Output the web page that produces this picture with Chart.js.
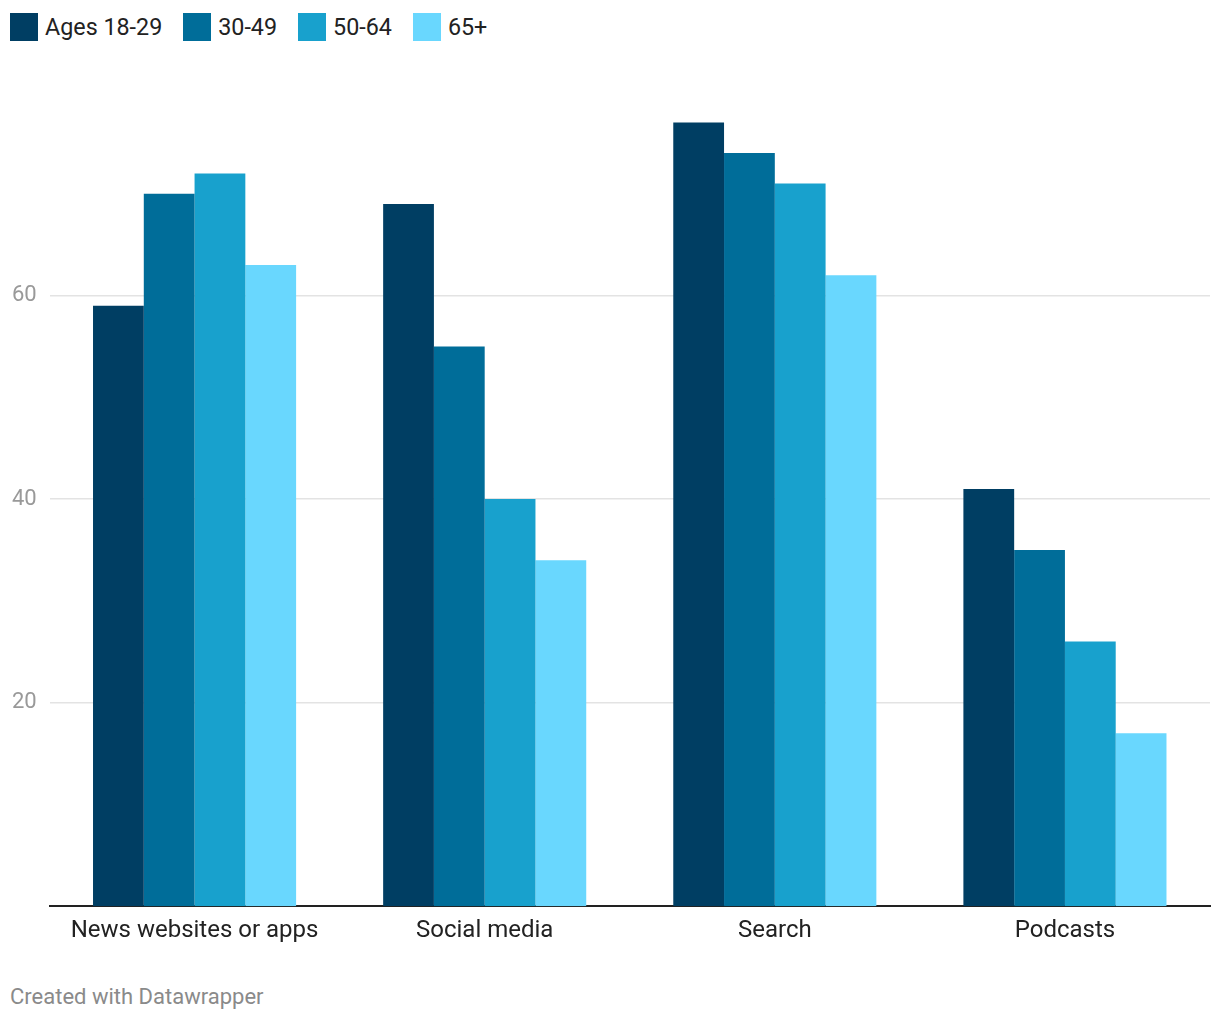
<!DOCTYPE html>
<html>
<head>
<meta charset="utf-8">
<script src="https://cdn.jsdelivr.net/npm/chart.js@4/dist/chart.umd.min.js"></script>
<style>
  body { margin: 0; background: #fff; font-family: Roboto, sans-serif; }
  #wrap { position: relative; width: 1220px; height: 1020px; }
  #legend { position: absolute; left: 10px; top: 13px; display: flex; align-items: center; }
  .item { display: flex; align-items: center; margin-right: 21px; font-size: 23.3px; color: #222; }
  .box { width: 28px; height: 28px; margin-right: 7px; }
  #box { position: absolute; left: 0; top: 0; width: 1220px; height: 960px; }
  #footer { position: absolute; left: 10px; top: 984px; font-size: 22px; color: #8a8a8a; }
</style>
</head>
<body>
<div id="wrap">
  <div id="legend"></div>
  <div id="box"><canvas id="myChart"></canvas></div>
  <div id="footer">Created with Datawrapper</div>
</div>
<script>
let categories = ['News websites or apps', 'Social media', 'Search', 'Podcasts'];
let seriesNames = ['Ages 18-29', '30-49', '50-64', '65+'];
let ages1829 = [59, 69, 77, 41];
let ages3049 = [70, 55, 74, 35];
let ages5064 = [72, 40, 71, 26];
let ages65 = [63, 34, 62, 17];
let yTicks = [20, 40, 60];
let colors = ['#003e63', '#006d99', '#18a1cd', '#69d7fe'];

let seriesValues = [ages1829, ages3049, ages5064, ages65];

// legend built as html
let legend = document.getElementById('legend');
for (let i = 0; i < seriesNames.length; i++) {
    let item = document.createElement('div');
    item.className = 'item';
    item.innerHTML = '<div class="box" style="background:' + colors[i] + '"></div>' + seriesNames[i];
    legend.appendChild(item);
}

let datasets = [];
for (let i = 0; i < seriesNames.length; i++) {
    datasets.push({
        label: seriesNames[i],
        data: seriesValues[i],
        backgroundColor: colors[i],
        borderWidth: 0,
        categoryPercentage: 0.7,
        barPercentage: 1.0
    });
}

let ctx = document.getElementById('myChart').getContext('2d');
let myChart = new Chart(ctx, {
    type: 'bar',
    data: {
        labels: categories,
        datasets: datasets
    },
    options: {
        responsive: true,
        maintainAspectRatio: false,
        animation: false,
        layout: { padding: { left: 12, right: 10, top: 92, bottom: 5 } },
        plugins: {
            legend: { display: false },
            tooltip: { enabled: false }
        },
        scales: {
            x: {
                grid: { display: false, drawTicks: false },
                border: { display: true, color: '#222', width: 2 },
                ticks: { color: '#222', font: { family: 'Roboto', size: 24 }, padding: 10 }
            },
            y: {
                min: 0,
                max: 80,
                afterBuildTicks: function (scale) {
                    scale.ticks = yTicks.map(function (v) { return { value: v }; });
                },
                afterFit: function (scale) { scale.width = 37.5; },
                grid: { color: '#e3e3e3', lineWidth: 1.5, drawTicks: false },
                border: { display: false },
                ticks: {
                    color: '#999',
                    font: { family: 'Roboto', size: 22 },
                    crossAlign: 'far',
                    padding: 12
                }
            }
        }
    }
});
</script>
</body>
</html>
